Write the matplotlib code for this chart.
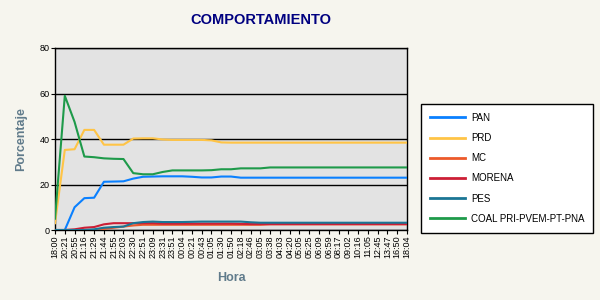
import matplotlib
matplotlib.use("Agg")
import matplotlib.pyplot as plt

plt.rcParams['font.family'] = ['Liberation Sans', 'DejaVu Sans']

# horas del eje x (una etiqueta por punto)
horas = ["18:00", "20:21", "20:55", "21:16", "21:29", "21:44", "21:55", "22:03",
         "22:30", "22:51", "23:09", "23:31", "23:51", "00:04", "00:21", "00:43",
         "01:05", "01:30", "01:50", "02:18", "02:46", "03:05", "03:38", "04:03",
         "04:20", "05:05", "05:25", "06:09", "06:59", "08:17", "09:02", "10:16",
         "11:05", "12:45", "13:47", "16:50", "18:04"]

# porcentajes
pan = [0, 0, 10, 14, 14.2, 21.2, 21.3, 21.4, 22.6, 23.4, 23.5, 23.6, 23.6, 23.6,
       23.4, 23.1, 23.1, 23.5, 23.5, 23.0, 23.0, 23.0, 23.0, 23.0, 23.0, 23.0,
       23.0, 23.0, 23.0, 23.0, 23.0, 23.0, 23.0, 23.0, 23.0, 23.0, 23.0]
prd = [3, 35.2, 35.5, 44, 44, 37.5, 37.5, 37.5, 40.2, 40.3, 40.3, 39.8, 39.6, 39.6,
       39.6, 39.6, 39.4, 38.5, 38.4, 38.4, 38.4, 38.4, 38.4, 38.4, 38.4, 38.4,
       38.4, 38.4, 38.4, 38.4, 38.4, 38.4, 38.4, 38.4, 38.4, 38.4, 38.4]
mc = [0, 0, 0, 0, 0, 0.5, 1, 1.5, 2, 2.3, 2.3, 2.3, 2.3, 2.3, 2.3, 2.3, 2.3, 2.3,
      2.3, 2.3, 2.3, 2.3, 2.5, 2.5, 2.5, 2.5, 2.5, 2.5, 2.5, 2.5, 2.5, 2.5, 2.5,
      2.5, 2.5, 2.5, 2.5]
morena = [0, 0, 0.3, 1, 1.3, 2.5, 3, 3, 3, 3, 3, 2.8, 2.8, 2.8, 2.8, 2.8, 2.8,
          2.8, 2.8, 2.7, 2.6, 2.6, 2.6, 2.6, 2.6, 2.6, 2.6, 2.6, 2.6, 2.6, 2.6,
          2.6, 2.6, 2.6, 2.6, 2.6, 2.6]
pes = [0, 0, 0, 0, 0.3, 1, 1.3, 1.5, 3, 3.5, 3.7, 3.5, 3.5, 3.5, 3.6, 3.7, 3.7,
       3.7, 3.7, 3.7, 3.4, 3.2, 3.2, 3.2, 3.2, 3.2, 3.2, 3.2, 3.2, 3.2, 3.2, 3.2,
       3.2, 3.2, 3.2, 3.2, 3.2]
coal = [5, 59, 47.5, 32.3, 32, 31.5, 31.3, 31.2, 25, 24.5, 24.5, 25.5, 26.2, 26.2,
        26.2, 26.2, 26.3, 26.7, 26.7, 27.1, 27.1, 27.1, 27.5, 27.5, 27.5, 27.5,
        27.5, 27.5, 27.5, 27.5, 27.5, 27.5, 27.5, 27.5, 27.5, 27.5, 27.5]

series = [("PAN", pan, "#0a80ff"),
          ("PRD", prd, "#ffc446"),
          ("MC", mc, "#ec5a2a"),
          ("MORENA", morena, "#cc1f36"),
          ("PES", pes, "#1b7594"),
          ("COAL PRI-PVEM-PT-PNA", coal, "#1e9a4a")]

fig = plt.figure(figsize=(6, 3), dpi=100, facecolor="#f6f5ee")
ax = fig.add_axes([0.0917, 0.2333, 0.5867, 0.6067])
ax.set_facecolor("#e3e3e3")

x = list(range(len(horas)))
for nombre, valores, color in series:
    ax.plot(x, valores, color=color, linewidth=1.5, label=nombre, zorder=3)

ax.set_xlim(0, len(horas) - 1)
ax.set_ylim(0, 80)
ax.set_yticks([0, 20, 40, 60, 80])
ax.set_xticks(x)
ax.set_xticklabels(horas, rotation=90, fontsize=6.5)
ax.tick_params(axis="y", labelsize=6.5, length=3, pad=1)
ax.tick_params(axis="x", length=3, pad=1)
ax.yaxis.grid(True, color="black", linewidth=1)
ax.set_axisbelow(True)
for s in ax.spines.values():
    s.set_color("black")
    s.set_linewidth(1)

lab_color = "#607b8b"
ax.set_ylabel("Porcentaje", fontsize=9, fontweight="bold", color=lab_color, labelpad=9)
ax.set_xlabel("Hora", fontsize=9, fontweight="bold", color=lab_color, labelpad=10)
fig.text(0.435, 0.935, "COMPORTAMIENTO", fontsize=10.5, fontweight="bold",
         color="#000080", ha="center", va="center")

leg = fig.legend(loc="upper left", bbox_to_anchor=(0.702, 0.653), fontsize=7,
                 frameon=True, fancybox=False, edgecolor="black", facecolor="white",
                 framealpha=1, handlelength=3.6, handletextpad=0.6,
                 labelspacing=1.05, borderpad=0.9, borderaxespad=0)
leg.get_frame().set_linewidth(1)
for linea in leg.get_lines():
    linea.set_linewidth(2)

fig.savefig("out.png", dpi=100, facecolor=fig.get_facecolor())
